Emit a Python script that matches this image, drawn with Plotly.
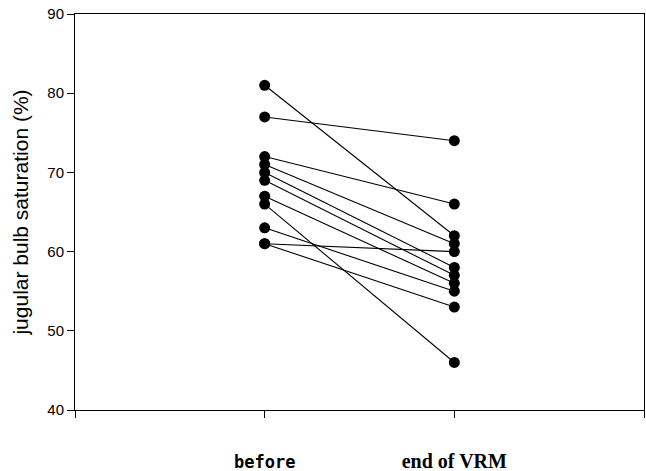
import plotly.graph_objects as go

# Data: paired measurements (before, end of VRM) for each subject
before_vals = [81, 77, 72, 71, 70, 69, 67, 66, 63, 61, 61]
after_vals = [62, 74, 66, 61, 58, 57, 56, 46, 55, 60, 53]
x_positions = [1, 2]
x_tick_vals = [0, 1, 2, 3]
x_tick_text = ["",
               '<span style="font-family:DejaVu Sans Mono;font-weight:bold;font-size:17px">before</span>',
               '<span style="font-family:Liberation Serif;font-weight:bold;font-size:20px">end of VRM</span>',
               ""]
y_title = "jugular bulb saturation (%)"

fig = go.Figure()
for b, a in zip(before_vals, after_vals):
    fig.add_trace(go.Scatter(
        x=x_positions, y=[b, a], mode="lines+markers",
        line=dict(color="black", width=1.1),
        marker=dict(color="black", size=11),
        showlegend=False, hoverinfo="skip", cliponaxis=False))

fig.update_layout(
    width=646, height=471,
    margin=dict(l=75, r=2, t=14, b=61, autoexpand=False),
    paper_bgcolor="white", plot_bgcolor="white",
    font=dict(family="Liberation Sans, Arial", color="black"),
)
fig.update_xaxes(
    range=[0, 3], tickvals=x_tick_vals, ticktext=x_tick_text,
    showgrid=False, zeroline=False, automargin=False,
    showline=True, linecolor="black", linewidth=1, mirror=True,
    ticks="outside", ticklen=7, tickcolor="black",
    tickfont=dict(size=19, color="black"),
    ticklabelstandoff=27,
)
fig.update_yaxes(
    range=[40, 90], dtick=10, tick0=40,
    showgrid=False, zeroline=False, automargin=False,
    showline=True, linecolor="black", linewidth=1, mirror=True,
    ticks="outside", ticklen=7, tickcolor="black",
    tickfont=dict(size=15, color="black"),
    title=dict(text=y_title, font=dict(size=21, color="black"), standoff=12),
)

fig.write_html("out.html", config={"displayModeBar": False},
               post_script="document.body.style.margin='0';")
